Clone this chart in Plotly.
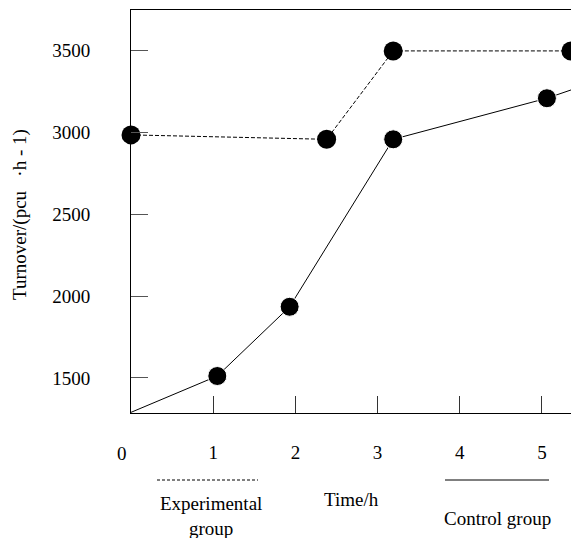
import plotly.graph_objects as go

# Data
control_x = [0, 1.05, 1.93, 3.19, 5.06, 5.6]
control_y = [1290, 1512, 1935, 2958, 3209, 3302]
control_marker = [0, 1, 1, 1, 1, 0]

exp_x = [0, 2.38, 3.19, 5.352]
exp_y = [2985, 2958, 3498, 3498]

x_ticks = [1, 2, 3, 4, 5]
y_ticks = [1500, 2000, 2500, 3000, 3500]

FONT = "Liberation Serif, Times New Roman, serif"
DOT = 19

fig = go.Figure()
fig.add_trace(go.Scatter(
    x=exp_x, y=exp_y, mode="lines+markers",
    line=dict(color="black", width=1, dash="4px,2px"),
    marker=dict(color="black", size=DOT, opacity=1),
    cliponaxis=False, showlegend=False, name="Experimental group"))
fig.add_trace(go.Scatter(
    x=control_x, y=control_y, mode="lines+markers",
    line=dict(color="black", width=1),
    marker=dict(color="black", size=[DOT * m for m in control_marker], opacity=1),
    cliponaxis=False, showlegend=False, name="Control group"))

fig.update_layout(
    width=571, height=538,
    margin=dict(l=131, r=0, t=10, b=125),
    paper_bgcolor="white", plot_bgcolor="white",
    font=dict(family=FONT, size=19, color="black"),
    xaxis=dict(range=[0, 5.353], tickvals=x_ticks, ticktext=[str(v) for v in x_ticks],
               ticks="inside", ticklen=17, tickcolor="#333", tickwidth=1,
               showline=True, linecolor="black", linewidth=1, mirror=True,
               showgrid=False, zeroline=False, ticklabelstandoff=22,
               tickfont=dict(family=FONT, size=19)),
    yaxis=dict(range=[1286, 3748], tickvals=y_ticks, ticktext=[str(v) for v in y_ticks],
               ticks="inside", ticklen=17, tickcolor="#555", tickwidth=1,
               showline=True, linecolor="black", linewidth=1, mirror=False,
               showgrid=False, zeroline=False, ticklabelstandoff=36,
               tickfont=dict(family=FONT, size=19)),
)

def px(x):
    return (x - 131) / 440

def py(y):
    return (413 - y) / 403

def label(x, y, text, size=19, angle=0):
    fig.add_annotation(x=px(x), y=py(y), xref="paper", yref="paper", text=text,
                       showarrow=False, xanchor="center", yanchor="middle",
                       textangle=angle, font=dict(family=FONT, size=size))

# "0" label at origin (shifted left as in reference)
label(122, 453, "0")

# axis titles
label(20, 215, "Turnover/(pcu \u00a0\u00a0·h - 1)", size=19, angle=-90)
label(351, 499, "Time/h")

# legend-like keys below axis
fig.add_shape(type="line", xref="paper", yref="paper", x0=px(157), x1=px(258), y0=py(480), y1=py(480),
              line=dict(color="black", width=1, dash="3px,2px"))
fig.add_shape(type="line", xref="paper", yref="paper", x0=px(445), x1=px(549), y0=py(480), y1=py(480),
              line=dict(color="black", width=1))
label(211, 516, "Experimental<br>group")
label(497, 518, "Control group")

fig.write_html("out.html", config={"displayModeBar": False},
               post_script="document.body.style.margin='0px';document.body.style.overflow='hidden';")
